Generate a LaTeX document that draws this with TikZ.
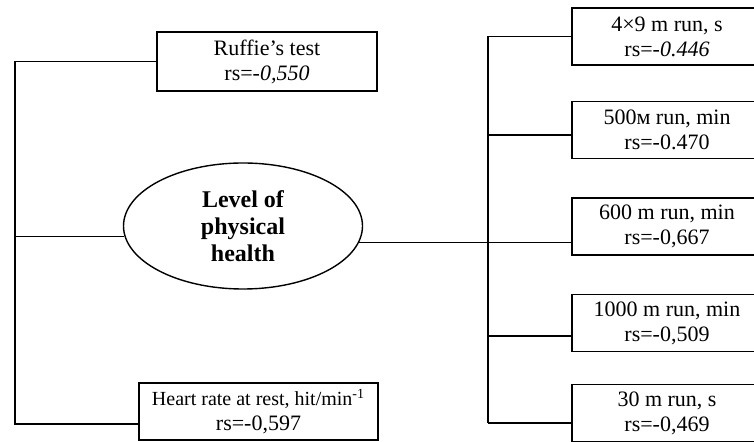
\documentclass[tikz,border=0pt]{standalone}
\usepackage{fontspec}
\setmainfont{Liberation Serif}
\usetikzlibrary{shapes.geometric}
\begin{document}
\begin{tikzpicture}[
    x=0.5pt, y=-0.5pt,
    line width=0.7pt,
    every node/.style={inner sep=2pt},
    testbox/.style={draw, rectangle, align=center, minimum height=28.5pt,
        font=\fontsize{11}{12.5}\selectfont},
    runbox/.style={testbox, minimum width=95pt},
]
% ---- frame of the picture (px) ----
\useasboundingbox (0,0) rectangle (754,442);
\clip (0,0) rectangle (754,442);

% ---- column x-coordinates ----
\def\xspL{15}     % left spine
\def\xspR{488}    % right spine
\def\xrun{667}    % run tests column

\coordinate (spL) at (\xspL,0);
\coordinate (spR) at (\xspR,0);

% ---- central ellipse ----
\node[ellipse, draw, minimum width=119.5pt, minimum height=63pt, inner sep=0pt,
      align=center, font=\fontsize{12}{13.5}\selectfont\bfseries]
      (hlth) at (243,226) {Level of\\physical\\health};

% ---- left tests ----
\node[testbox, minimum width=110pt, minimum height=29.5pt] (ruffie) at (267,61.5)
      {Ruffie's test\\ rs=\textit{-0,550}};
\node[testbox, minimum width=119.5pt] (heart) at (258.5,411.5)
      {{\fontsize{10}{12}\selectfont Heart rate at rest, hit/min\textsuperscript{-1}}\\ rs=-0,597};

% ---- run tests ----
\node[runbox] (r1) at (\xrun,36.5) {4×9 m run, s\\ rs=\textit{-0.446}};
\node[runbox] (r2) at (\xrun,130)  {500м run, min\\ rs=-0.470};
\node[runbox] (r3) at (\xrun,226.5){600 m run, min\\ rs=-0,667};
\node[runbox] (r4) at (\xrun,323)  {1000 m run, min\\ rs=-0,509};
\node[runbox] (r5) at (\xrun,413)  {30 m run, s\\ rs=-0,469};

% ---- joints on the boxes ----
\coordinate (hb) at ([yshift=-6.25pt]heart.west);
\coordinate (j2) at ([yshift=-2.5pt]r2.west);
\coordinate (j4) at ([yshift=-6.5pt]r4.west);
\coordinate (j5) at ([yshift=-5pt]r5.west);

% ---- left spine ----
\draw (ruffie.west) -- (ruffie.west -| spL) -- (spL |- hb) -- (hb);
\draw (hlth.185) -- (hlth.185 -| spL);

% ---- right spine ----
\draw (spR |- r1.west) -- (spR |- j5);
\draw (r1.west) -- (r1.west -| spR);
\draw (j2) -- (j2 -| spR);
\draw (hlth.-8) -- (hlth.-8 -| r3.west);
\draw (j4) -- (j4 -| spR);
\draw (j5) -- (j5 -| spR);
\end{tikzpicture}
\end{document}
